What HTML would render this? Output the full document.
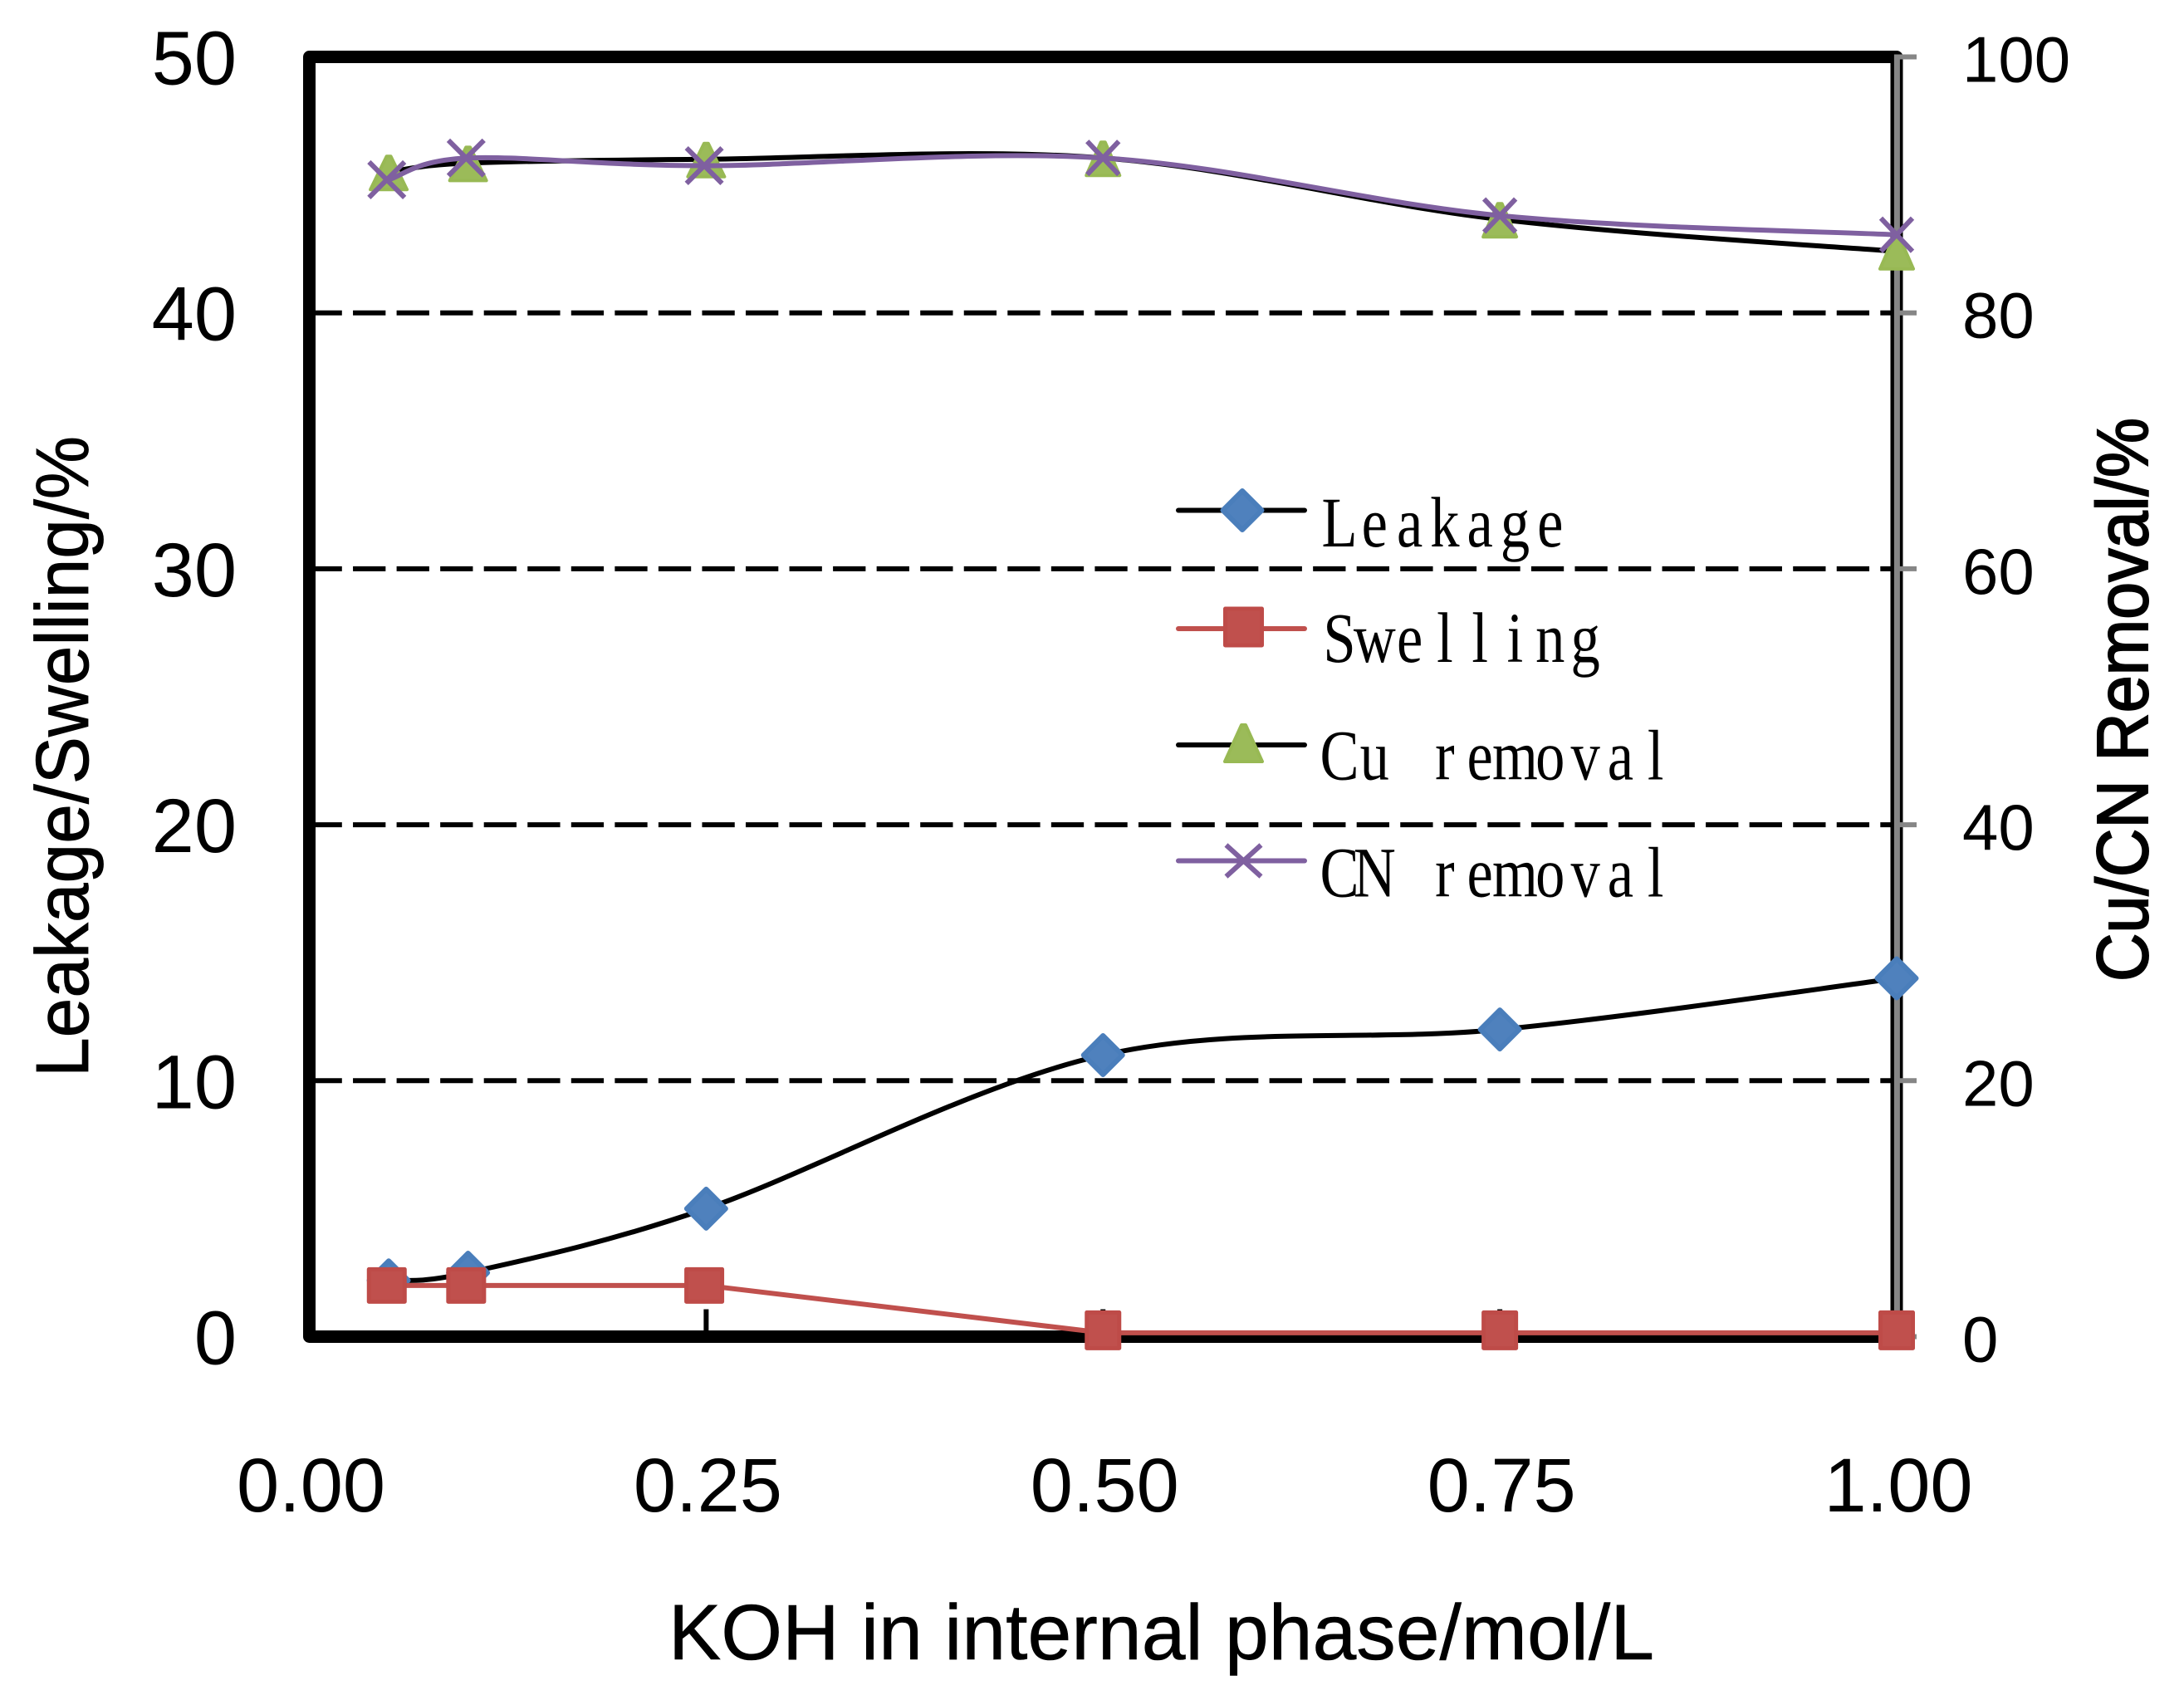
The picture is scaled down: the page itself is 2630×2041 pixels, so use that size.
<!DOCTYPE html>
<html lang="en">
<head>
<meta charset="utf-8">
<title>Leakage, swelling and removal versus KOH concentration</title>
<style>
  html, body { margin: 0; padding: 0; background: #ffffff; }
  body { width: 2630px; height: 2041px; overflow: hidden; }
  svg { display: block; }
  text { font-family: "Liberation Sans", Arial, sans-serif; fill: #000000; }
  .legend-text { font-family: "Liberation Serif", "Noto Serif CJK SC", serif; }
</style>
</head>
<body>
<svg id="chart" xmlns="http://www.w3.org/2000/svg" width="2630" height="2041" viewBox="0 0 2630 2041">
  <rect x="0" y="0" width="2630" height="2041" fill="#ffffff"/>
  <g id="grid"></g>
  <g id="axes"></g>
  <g id="series"></g>
  <g id="labels"></g>
  <text x="805" y="1998" font-size="95" textLength="1187" lengthAdjust="spacingAndGlyphs" stroke="#000000" stroke-width="0.6">KOH in internal phase/mol/L</text>
  <text transform="translate(106,1297) rotate(-90)" font-size="90" textLength="772" lengthAdjust="spacingAndGlyphs" stroke="#000000" stroke-width="0.8">Leakage/Swelling/%</text>
  <text transform="translate(2586,1182) rotate(-90)" font-size="87" textLength="679" lengthAdjust="spacingAndGlyphs" stroke="#000000" stroke-width="2">Cu/CN Removal/%</text>
  <g id="legend"></g>
</svg>
<script>
const categories = [0.05, 0.1, 0.25, 0.5, 0.75, 1.0];
const leakage = [2.2, 2.5, 5, 11, 12, 14];
const swelling = [2, 2, 2, 0.15, 0.15, 0.15];
const cuRemoval = [91, 91.7, 92, 92.1, 87.3, 84.8];
const cnRemoval = [90.4, 92.1, 91.5, 92.1, 87.6, 86.1];
const xTicks = [0, 0.25, 0.5, 0.75, 1];
const xTickLabels = ['0.00', '0.25', '0.50', '0.75', '1.00'];
const leftTicks = [0, 10, 20, 30, 40, 50];
const rightTicks = [0, 20, 40, 60, 80, 100];
const gridValues = [10, 20, 30, 40];

const NS = 'http://www.w3.org/2000/svg';
const PLOT = { left: 372.5, right: 2284, top: 68.5, bottom: 1609.5 };
const COLORS = {
  blue: '#4F81BD', blueEdge: '#4A7EBB',
  red: '#C0504D', redEdge: '#BE4B48',
  green: '#9BBB59', greenEdge: '#98B954',
  purple: '#7F60A0', grey: '#868686', black: '#000000'
};

function xScale(v) { return PLOT.left + v * (PLOT.right - PLOT.left); }
function yLeft(v) { return PLOT.bottom - (v / 50) * (PLOT.bottom - PLOT.top); }
function yRight(v) { return PLOT.bottom - (v / 100) * (PLOT.bottom - PLOT.top); }

function make(tag, attrs, parent) {
  const el = document.createElementNS(NS, tag);
  for (const k in attrs) el.setAttribute(k, attrs[k]);
  parent.appendChild(el);
  return el;
}

function smoothPath(pts) {
  let d = 'M' + pts[0][0] + ' ' + pts[0][1];
  for (let i = 0; i < pts.length - 1; i++) {
    const p0 = pts[Math.max(i - 1, 0)];
    const p1 = pts[i];
    const p2 = pts[i + 1];
    const p3 = pts[Math.min(i + 2, pts.length - 1)];
    const c1x = p1[0] + (p2[0] - p0[0]) / 6;
    const c1y = p1[1] + (p2[1] - p0[1]) / 6;
    const c2x = p2[0] - (p3[0] - p1[0]) / 6;
    const c2y = p2[1] - (p3[1] - p1[1]) / 6;
    d += ' C' + c1x + ' ' + c1y + ' ' + c2x + ' ' + c2y + ' ' + p2[0] + ' ' + p2[1];
  }
  return d;
}
function straightPath(pts) {
  return pts.map(function (p, i) { return (i ? 'L' : 'M') + p[0] + ' ' + p[1]; }).join(' ');
}

function diamond(parent, cx, cy) {
  const h = 23.5;
  return make('polygon', {
    points: [[cx, cy - h], [cx + h, cy], [cx, cy + h], [cx - h, cy]].join(' '),
    fill: COLORS.blue, stroke: COLORS.blueEdge, 'stroke-width': 6, 'stroke-linejoin': 'round'
  }, parent);
}
function square(parent, cx, cy, w, h) {
  return make('rect', {
    x: cx - w / 2 + 2.5, y: cy - h / 2 + 2.5, width: w - 5, height: h - 5,
    fill: COLORS.red, stroke: COLORS.redEdge, 'stroke-width': 5, 'stroke-linejoin': 'round'
  }, parent);
}
function triangle(parent, cx, cy, w, h) {
  return make('polygon', {
    points: [[cx - 2.5, cy - h / 2 + 2], [cx + 2.5, cy - h / 2 + 2], [cx + w / 2 - 2, cy + h / 2 - 2], [cx - w / 2 + 2, cy + h / 2 - 2]].join(' '),
    fill: COLORS.green, stroke: COLORS.greenEdge, 'stroke-width': 4, 'stroke-linejoin': 'round'
  }, parent);
}
function cross(parent, cx, cy, hw, hh) {
  return make('path', {
    d: 'M' + (cx - hw) + ' ' + (cy - hh) + ' L' + (cx + hw) + ' ' + (cy + hh) + ' M' + (cx + hw) + ' ' + (cy - hh) + ' L' + (cx - hw) + ' ' + (cy + hh),
    fill: 'none', stroke: COLORS.purple, 'stroke-width': 6
  }, parent);
}

/* gridlines */
const gridLayer = document.getElementById('grid');
gridValues.forEach(function (v) {
  const line = make('line', {
    x1: PLOT.left, x2: PLOT.right, y1: yLeft(v), y2: yLeft(v),
    stroke: COLORS.black, 'stroke-width': 6, 'stroke-dasharray': '39.3 13.25'
  }, gridLayer);
  
  
});

/* frame, ticks */
const axesLayer = document.getElementById('axes');
const frame = make('rect', {
  x: PLOT.left, y: PLOT.top, width: PLOT.right - PLOT.left, height: PLOT.bottom - PLOT.top,
  fill: 'none', stroke: COLORS.black, 'stroke-width': 15, 'stroke-linejoin': 'round'
}, axesLayer);



const rightAxis = make('line', {
  x1: PLOT.right + 0.4, x2: PLOT.right + 0.4, y1: PLOT.top - 3, y2: PLOT.bottom,
  stroke: COLORS.grey, 'stroke-width': 7
}, axesLayer);



rightTicks.forEach(function (v) {
  const tick = make('line', {
    x1: PLOT.right, x2: PLOT.right + 24, y1: yRight(v), y2: yRight(v),
    stroke: COLORS.grey, 'stroke-width': 6
  }, axesLayer);
  
  
});

xTicks.forEach(function (v) {
  if (v === 0 || v === 1) return;
  const tick = make('line', {
    x1: xScale(v), x2: xScale(v), y1: PLOT.bottom - 33, y2: PLOT.bottom,
    stroke: COLORS.black, 'stroke-width': 6
  }, axesLayer);
  
  
});

/* tick labels */
const labelLayer = document.getElementById('labels');
leftTicks.forEach(function (v) {
  const t = make('text', { x: 285, y: yLeft(v) + 33, 'font-size': 92, 'text-anchor': 'end' }, labelLayer);
  t.textContent = String(v);
  
  
});
rightTicks.forEach(function (v) {
  const t = make('text', { x: 2363, y: yRight(v) + 30, 'font-size': 78 }, labelLayer);
  t.textContent = String(v);
  
  
});
xTicks.forEach(function (v, i) {
  const t = make('text', { x: xScale(v) + 2, y: 1820, 'font-size': 92, 'text-anchor': 'middle' }, labelLayer);
  t.textContent = xTickLabels[i];
  
  
});

/* series */
const seriesLayer = document.getElementById('series');

const leakagePts = categories.map(function (c, i) { return [xScale(c), yLeft(leakage[i])]; });
const swellingPts = categories.map(function (c, i) { return [xScale(c), yLeft(swelling[i])]; });
const cuPts = categories.map(function (c, i) { return [xScale(c), yRight(cuRemoval[i])]; });
const cnPts = categories.map(function (c, i) { return [xScale(c), yRight(cnRemoval[i])]; });

const leakageLine = make('path', { d: smoothPath(leakagePts), fill: 'none', stroke: COLORS.black, 'stroke-width': 6 }, seriesLayer);


leakagePts.forEach(function (p) {
  const m = diamond(seriesLayer, p[0], p[1]);
  
  
});

const swellingLine = make('path', { d: straightPath(swellingPts), fill: 'none', stroke: COLORS.red, 'stroke-width': 6 }, seriesLayer);


categories.forEach(function (c, i) {
  const early = c < 0.3;
  const p = swellingPts[i];
  const m = early ? square(seriesLayer, p[0] - 2.3, p[1], 48, 44) : square(seriesLayer, p[0], p[1] - 3, 44, 48);
  
  
});

const cuLine = make('path', { d: smoothPath(cuPts), fill: 'none', stroke: COLORS.black, 'stroke-width': 6 }, seriesLayer);


categories.forEach(function (c, i) {
  const p = cuPts[i];
  const m = triangle(seriesLayer, p[0], p[1] + 1, c < 0.3 ? 48 : 44, 44);
  
  
});

const cnLine = make('path', { d: smoothPath(cnPts), fill: 'none', stroke: COLORS.purple, 'stroke-width': 6 }, seriesLayer);


categories.forEach(function (c, i) {
  const early = c < 0.3;
  const p = cnPts[i];
  const m = early ? cross(seriesLayer, p[0] - 2.3, p[1], 21.4, 21.4) : cross(seriesLayer, p[0], p[1], 19, 20);
  
  
});

/* legend */
const legendLayer = document.getElementById('legend');
const legendLabels = ['Leakage', 'Swelling', 'Cu removal', 'CN removal'];
const legendLineY = [614.5, 757, 897, 1036.5];
const legendTextY = [658, 797, 938.5, 1079.5];
const legendLineColors = [COLORS.black, COLORS.red, COLORS.black, COLORS.purple];

legendLabels.forEach(function (label, i) {
  const swatch = make('line', {
    x1: 1419, x2: 1571, y1: legendLineY[i], y2: legendLineY[i],
    stroke: legendLineColors[i], 'stroke-width': 6, 'stroke-linecap': 'round'
  }, legendLayer);
  
  

  let mark;
  if (i === 0) mark = diamond(legendLayer, 1496, legendLineY[i]);
  if (i === 1) mark = square(legendLayer, 1497.5, legendLineY[i] - 2, 49, 49);
  if (i === 2) mark = triangle(legendLayer, 1497.5, legendLineY[i] - 2, 49, 48);
  if (i === 3) mark = cross(legendLayer, 1497.5, legendLineY[i], 21, 19);
  
  

  /* half-width CJK-style Latin: each glyph narrowed and centred in a fixed cell */
  const pitch = 42.3;
  const squeeze = 0.82;
  const xs = [];
  for (let c = 0; c < label.length; c++) xs.push((20 + pitch * c) / squeeze);
  const t = make('text', {
    transform: 'translate(1593,' + legendTextY[i] + ') scale(' + squeeze + ',1)',
    x: xs.join(' '), y: 0, 'font-size': 86, 'text-anchor': 'middle', 'class': 'legend-text'
  }, legendLayer);
  t.textContent = label;
  
  
});
</script>
</body>
</html>
